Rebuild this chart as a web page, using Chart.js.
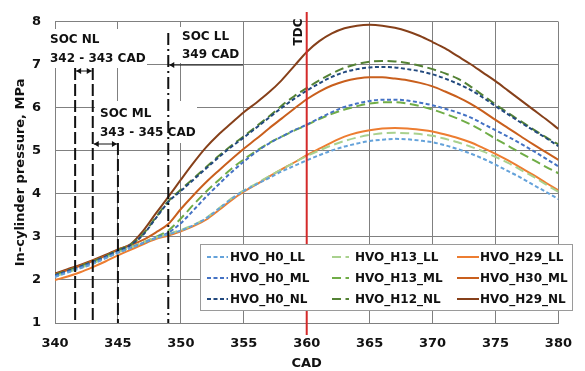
<!DOCTYPE html>
<html>
<head>
<meta charset="utf-8">
<script src="https://cdn.jsdelivr.net/npm/chart.js@4.4.1/dist/chart.umd.min.js"></script>
<style>
  html, body { margin: 0; padding: 0; background: #fff; }
</style>
</head>
<body>
<canvas id="c" width="585" height="371"></canvas>
<script>
// crank angle (CAD) and in-cylinder pressure (MPa)
const cad = [340,341,342,343,344,345,346,347,348,349,350,351,352,353,354,355,356,357,358,359,360,
             361,362,363,364,365,366,367,368,369,370,371,372,373,374,375,376,377,378,379,380];

const h0LL  = [2.07,2.17,2.27,2.37,2.50,2.63,2.74,2.86,2.97,3.06,3.15,3.27,3.43,3.65,3.88,4.07,4.22,4.37,4.52,4.65,4.78,
               4.90,5.01,5.10,5.17,5.23,5.26,5.28,5.27,5.24,5.20,5.13,5.04,4.94,4.82,4.68,4.53,4.38,4.21,4.05,3.88];
const h0ML  = [2.09,2.19,2.29,2.40,2.52,2.64,2.75,2.86,2.98,3.10,3.32,3.62,3.93,4.22,4.50,4.75,4.98,5.17,5.33,5.48,5.61,
               5.76,5.90,6.02,6.10,6.16,6.19,6.19,6.17,6.12,6.06,5.98,5.89,5.78,5.63,5.48,5.33,5.17,5.00,4.82,4.64];
const h0NL  = [2.11,2.21,2.31,2.42,2.54,2.68,2.81,3.05,3.43,3.81,4.07,4.33,4.59,4.85,5.09,5.31,5.54,5.77,6.00,6.21,6.40,
               6.57,6.72,6.83,6.90,6.94,6.95,6.94,6.90,6.85,6.78,6.68,6.56,6.42,6.24,6.04,5.85,5.66,5.48,5.30,5.11];
const h13LL = [2.08,2.18,2.28,2.38,2.51,2.64,2.75,2.87,2.98,3.07,3.16,3.28,3.44,3.66,3.89,4.08,4.24,4.41,4.57,4.73,4.88,
               5.01,5.13,5.23,5.31,5.37,5.41,5.42,5.41,5.39,5.35,5.28,5.20,5.10,4.99,4.86,4.72,4.56,4.40,4.22,4.05];
const h13ML = [2.10,2.19,2.29,2.40,2.52,2.65,2.76,2.87,3.00,3.15,3.43,3.75,4.05,4.32,4.58,4.80,5.00,5.18,5.33,5.47,5.60,
               5.74,5.86,5.96,6.04,6.10,6.13,6.13,6.10,6.04,5.96,5.86,5.75,5.62,5.46,5.28,5.12,4.95,4.79,4.63,4.48];
const h12NL = [2.12,2.22,2.32,2.43,2.55,2.69,2.82,3.07,3.45,3.83,4.10,4.36,4.62,4.88,5.12,5.34,5.57,5.80,6.05,6.27,6.46,
               6.64,6.80,6.93,7.02,7.07,7.09,7.08,7.04,6.98,6.90,6.80,6.68,6.50,6.29,6.08,5.88,5.69,5.50,5.32,5.15];
const h29LL = [2.00,2.08,2.18,2.30,2.43,2.57,2.70,2.83,2.95,3.03,3.13,3.25,3.40,3.62,3.85,4.05,4.22,4.40,4.57,4.73,4.90,
               5.05,5.20,5.33,5.42,5.48,5.52,5.53,5.52,5.49,5.45,5.38,5.30,5.20,5.07,4.93,4.78,4.61,4.44,4.26,4.08];
const h30ML = [2.13,2.23,2.33,2.44,2.56,2.70,2.81,2.93,3.10,3.30,3.65,3.97,4.27,4.54,4.80,5.05,5.28,5.52,5.75,5.98,6.20,
               6.38,6.52,6.62,6.68,6.71,6.71,6.68,6.64,6.58,6.50,6.38,6.25,6.10,5.92,5.72,5.53,5.34,5.15,4.97,4.79];
const h29NL = [2.15,2.25,2.35,2.46,2.58,2.71,2.83,3.14,3.54,3.93,4.33,4.72,5.08,5.38,5.64,5.90,6.12,6.36,6.64,6.97,7.30,
               7.55,7.73,7.85,7.91,7.93,7.91,7.86,7.78,7.67,7.53,7.38,7.20,7.02,6.82,6.62,6.40,6.18,5.96,5.74,5.51];

const seriesNames = ["HVO_H0_LL","HVO_H0_ML","HVO_H0_NL","HVO_H13_LL","HVO_H13_ML","HVO_H12_NL","HVO_H29_LL","HVO_H30_ML","HVO_H29_NL"];
const seriesData  = [h0LL, h0ML, h0NL, h13LL, h13ML, h12NL, h29LL, h30ML, h29NL];
const seriesColor = ["#64a2da","#4472c4","#22497e","#a9d18e","#70ad47","#548235","#ed7d31","#c95f1d","#86401a"];

const xTicks = [340,345,350,355,360,365,370,375,380];
const yTicks = [1,2,3,4,5,6,7,8];

// start-of-combustion markers and top dead centre
const socNL = [341.6, 343];
const socML = [343, 345];
const socLL = 349;
const tdc = 360;

const FONT = "'DejaVu Sans', sans-serif";
const GRID = "#808080";
const INK = "#111";

function dashFor(i) {
  if (i < 3) return [4, 2.5];      // H0: short dash
  if (i < 6) return [9, 4.5];      // H12/H13: long dash
  return [];                       // H29/H30: solid
}

function arrowHead(ctx, x, y, dir) {
  ctx.beginPath();
  ctx.moveTo(x, y);
  ctx.lineTo(x - dir * 5, y - 3);
  ctx.lineTo(x - dir * 5, y + 3);
  ctx.closePath();
  ctx.fill();
}

function hLineArrow(ctx, x0, x1, y, both) {
  ctx.beginPath();
  ctx.moveTo(x0, y);
  ctx.lineTo(x1, y);
  ctx.stroke();
  arrowHead(ctx, x0, y, -1);
  if (both) arrowHead(ctx, x1, y, 1);
}

const notes = {
  id: "notes",
  beforeDatasetsDraw(chart) {
    const { ctx } = chart;
    ctx.save();
    // text boxes sit on white and hide the grid behind them
    ctx.fillStyle = "#fff";
    ctx.fillRect(48, 29, 99, 39);
    ctx.fillRect(171, 27, 72, 36);
    ctx.fillRect(95, 101, 102, 42);
    ctx.fillStyle = INK;
    ctx.font = "bold 12px " + FONT;
    ctx.textBaseline = "middle";
    ctx.textAlign = "left";
    ctx.fillText("SOC NL", 50, 40);
    ctx.fillText("342 - 343 CAD", 50, 59);
    ctx.fillText("SOC LL", 182, 37);
    ctx.fillText("349 CAD", 182, 55);
    ctx.fillText("SOC ML", 100, 114);
    ctx.fillText("343 - 345 CAD", 100, 133);
    ctx.restore();
  },
  afterDatasetsDraw(chart) {
    const { ctx, scales: { x, y } } = chart;
    const yb = y.getPixelForValue(1);
    ctx.save();
    ctx.strokeStyle = INK;
    ctx.fillStyle = INK;
    ctx.lineWidth = 2;

    // SOC NL / ML dashed verticals
    ctx.setLineDash([12, 4]);
    socNL.forEach(v => {
      const px = x.getPixelForValue(v);
      ctx.beginPath(); ctx.moveTo(px, 68); ctx.lineTo(px, yb); ctx.stroke();
    });
    const pml = x.getPixelForValue(socML[1]);
    ctx.beginPath(); ctx.moveTo(pml, 143); ctx.lineTo(pml, yb); ctx.stroke();

    // SOC LL dash-dot vertical
    ctx.setLineDash([12, 4, 2, 4]);
    const pll = x.getPixelForValue(socLL);
    ctx.beginPath(); ctx.moveTo(pll, 33); ctx.lineTo(pll, yb); ctx.stroke();

    // arrows
    ctx.setLineDash([]);
    ctx.lineWidth = 1;
    hLineArrow(ctx, x.getPixelForValue(socNL[0]) + 1, x.getPixelForValue(socNL[1]) - 1, 71, true);
    hLineArrow(ctx, x.getPixelForValue(socML[0]) + 1, x.getPixelForValue(socML[1]) - 1, 144, true);
    hLineArrow(ctx, pll + 1, 243, 65, false);

    // TDC line
    const pt = x.getPixelForValue(tdc);
    ctx.strokeStyle = "#d42a2a";
    ctx.lineWidth = 2;
    ctx.beginPath(); ctx.moveTo(pt, 12); ctx.lineTo(pt, 335); ctx.stroke();
    ctx.translate(pt - 8, 32);
    ctx.rotate(-Math.PI / 2);
    ctx.fillStyle = INK;
    ctx.font = "bold 12px " + FONT;
    ctx.textAlign = "center";
    ctx.textBaseline = "middle";
    ctx.fillText("TDC", 0, 0);
    ctx.restore();
  },
  afterDraw(chart) {
    const { ctx } = chart;
    ctx.save();
    // legend box, 3 columns x 3 rows
    ctx.fillStyle = "#fff";
    ctx.fillRect(200, 244, 373, 67);
    ctx.strokeStyle = "#9a9a9a";
    ctx.lineWidth = 1;
    ctx.strokeRect(200.5, 244.5, 372, 66);
    const cols = [[207, 228, 230], [332, 349, 355], [457, 479, 480]];
    const rows = [257, 278, 299];
    ctx.font = "bold 12px " + FONT;
    ctx.textBaseline = "middle";
    chart.data.datasets.forEach((ds, i) => {
      const [l0, l1, tx] = cols[Math.floor(i / 3)];
      const ty = rows[i % 3];
      ctx.strokeStyle = ds.borderColor;
      ctx.lineWidth = 2;
      ctx.setLineDash(ds.borderDash);
      ctx.beginPath(); ctx.moveTo(l0, ty); ctx.lineTo(l1, ty); ctx.stroke();
      ctx.setLineDash([]);
      ctx.fillStyle = INK;
      ctx.fillText(ds.label, tx, ty + 1);
    });
    ctx.restore();
  }
};

const datasets = seriesNames.map((name, i) => ({
  label: name,
  data: cad.map((c, k) => ({ x: c, y: seriesData[i][k] })),
  borderColor: seriesColor[i],
  borderDash: dashFor(i),
  borderWidth: 2,
  pointRadius: 0,
  fill: false,
  cubicInterpolationMode: "monotone"
}));

const tickFont = { family: FONT, size: 13, weight: "bold" };

new Chart(document.getElementById("c"), {
  type: "line",
  data: { datasets },
  options: {
    responsive: false,
    animation: false,
    devicePixelRatio: 1,
    layout: { padding: { top: 17, right: 20, left: 0, bottom: 0 } },
    plugins: { legend: { display: false }, tooltip: { enabled: false } },
    scales: {
      x: {
        type: "linear", min: 340, max: 380,
        afterBuildTicks: s => { s.ticks = xTicks.map(v => ({ value: v })); },
        ticks: { color: INK, font: tickFont, padding: 13, maxRotation: 0 },
        grid: { color: GRID, drawTicks: false },
        border: { color: GRID },
        title: { display: true, text: "CAD", color: INK, font: tickFont, padding: 0 },
        afterFit: s => { s.height = 48; }
      },
      y: {
        type: "linear", min: 1, max: 8,
        afterBuildTicks: s => { s.ticks = yTicks.map(v => ({ value: v })); },
        ticks: { color: INK, font: tickFont, padding: 14 },
        grid: { color: GRID, drawTicks: false },
        border: { color: GRID },
        title: { display: true, text: "In-cylinder pressure, MPa", color: INK, font: tickFont, padding: { top: 13, bottom: 0 } },
        afterFit: s => { s.width = 55; }
      }
    }
  },
  plugins: [notes]
});
</script>
</body>
</html>
